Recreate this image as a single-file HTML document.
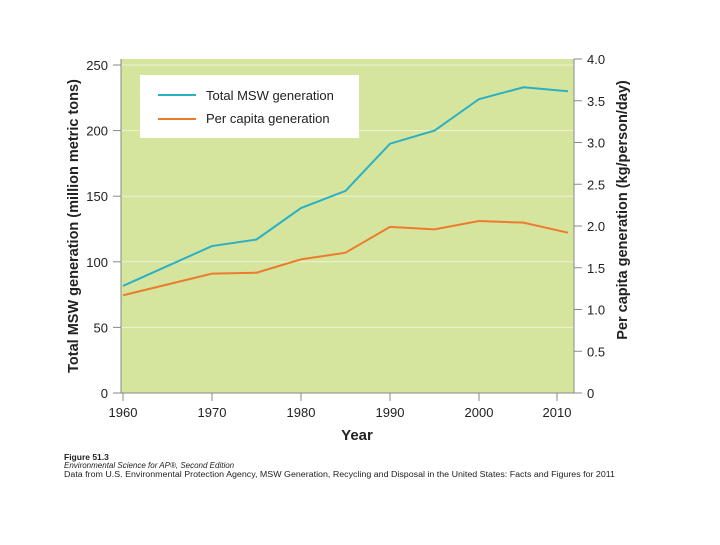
<!DOCTYPE html>
<html><head><meta charset="utf-8"><style>
body{margin:0;background:#fff;width:720px;height:540px;overflow:hidden;font-family:"Liberation Sans",sans-serif;}
svg text{font-family:"Liberation Sans",sans-serif;}
</style></head><body>
<svg id="chart" width="720" height="540" xmlns="http://www.w3.org/2000/svg">
<rect x="121" y="59" width="453" height="334" fill="#d5e59e"/>
<g id="grid"></g>
<g id="axes"></g>
<g id="lines"></g>
<g>
<rect x="140" y="75" width="219" height="63" fill="#fff"/>
<line x1="158" y1="95" x2="196" y2="95" stroke="#2bb0c4" stroke-width="2"/>
<text x="206" y="100" font-size="13" fill="#222">Total MSW generation</text>
<line x1="158" y1="119" x2="196" y2="119" stroke="#ec7c2c" stroke-width="2"/>
<text x="206" y="123" font-size="13" fill="#222">Per capita generation</text>
</g>
<text x="357" y="440" font-size="15" font-weight="bold" text-anchor="middle" fill="#222">Year</text>
<text transform="translate(78,226) rotate(-90)" font-size="14.5" font-weight="bold" text-anchor="middle" fill="#222">Total MSW generation (million metric tons)</text>
<text transform="translate(627,210) rotate(-90)" font-size="14.5" font-weight="bold" text-anchor="middle" fill="#222">Per capita generation (kg/person/day)</text>
<g fill="#222">
<text x="64" y="460" font-size="8.5" font-weight="bold">Figure 51.3</text>
<text x="64" y="468" font-size="8" font-style="italic">Environmental Science for AP®, Second Edition</text>
<text x="64" y="477" font-size="8" textLength="551" lengthAdjust="spacingAndGlyphs">Data from U.S. Environmental Protection Agency, MSW Generation, Recycling and Disposal in the United States: Facts and Figures for 2011</text>
</g>
</svg>
<script>
const years=[1960,1970,1975,1980,1985,1990,1995,2000,2005,2010];
const totalMSW=[81.6,112,117,141,154,190,200,224,233,230];
const perCapita=[1.17,1.43,1.44,1.60,1.68,1.99,1.96,2.06,2.04,1.92];
const xTicks=[1960,1970,1980,1990,2000,2010];
const yLeftTicks=[0,50,100,150,200,250];
const yRightTicks=[0,0.5,1.0,1.5,2.0,2.5,3.0,3.5,4.0];
const yRightLabels=["0","0.5","1.0","1.5","2.0","2.5","3.0","3.5","4.0"];
const NS="http://www.w3.org/2000/svg";
const x=v=>123+(v-1960)*8.9;
const yL=v=>393-v*1.312;
const yR=v=>393-v*83.5;
function mk(tag,attrs,parent){const e=document.createElementNS(NS,tag);for(const k in attrs)e.setAttribute(k,attrs[k]);parent.appendChild(e);return e;}
const axes=document.getElementById('axes'),grid=document.getElementById('grid'),lines=document.getElementById('lines');
mk('line',{x1:121,y1:59,x2:121,y2:393,stroke:'#888','stroke-width':1},axes);
mk('line',{x1:574,y1:59,x2:574,y2:393,stroke:'#888','stroke-width':1},axes);
yLeftTicks.forEach(v=>{
 if(v>0){const g=mk('line',{x1:121,y1:yL(v),x2:574,y2:yL(v),stroke:'#eef3d4','stroke-width':1},grid);
 
 }
 mk('line',{x1:113,y1:yL(v),x2:121,y2:yL(v),stroke:'#888'},axes);
 const t=mk('text',{x:108,y:yL(v)+5,'font-size':13,'text-anchor':'end',fill:'#222'},axes);t.textContent=v;
 
 
});
yRightTicks.forEach((v,i)=>{
 mk('line',{x1:574,y1:yR(v),x2:582,y2:yR(v),stroke:'#888'},axes);
 const t=mk('text',{x:587,y:yR(v)+5,'font-size':13,fill:'#222'},axes);t.textContent=yRightLabels[i];
 
 
});
xTicks.forEach(v=>{
 const px=v===2010?557:x(v);
 mk('line',{x1:px,y1:393,x2:px,y2:401,stroke:'#888'},axes);
 const t=mk('text',{x:px,y:417,'font-size':13,'text-anchor':'middle',fill:'#222'},axes);t.textContent=v;
 
 
});
mk('line',{x1:121,y1:393,x2:574,y2:393,stroke:'#888'},axes);
const p1=mk('polyline',{points:years.map((yr,i)=>x(yr)+','+yL(totalMSW[i])).join(' '),fill:'none',stroke:'#2bb0c4','stroke-width':2},lines);


const p2=mk('polyline',{points:years.map((yr,i)=>x(yr)+','+yR(perCapita[i])).join(' '),fill:'none',stroke:'#ec7c2c','stroke-width':2},lines);


</script>
</body></html>
